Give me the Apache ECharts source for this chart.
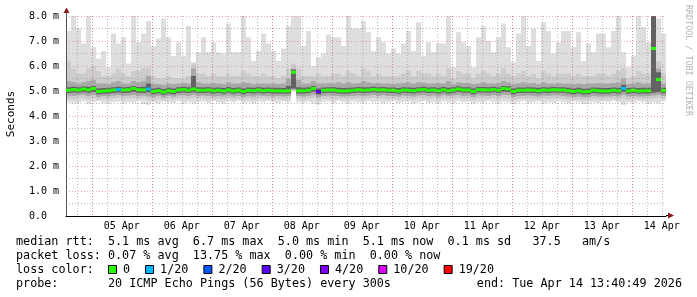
<!DOCTYPE html>
<html><head><meta charset="utf-8">
<script src="https://cdn.jsdelivr.net/npm/echarts@6/dist/echarts.min.js"></script>
<style>html,body{margin:0;padding:0;background:#fff}#c{width:697px;height:297px}</style>
</head><body><div id="c"></div>
<script>
// ---- data ----
const dayLabels = ['05 Apr','06 Apr','07 Apr','08 Apr','09 Apr','10 Apr','11 Apr','12 Apr','13 Apr','14 Apr'];
const yTicks = [0,1,2,3,4,5,6,7,8];
const startHour = 13.6803;   // Apr 4 13:40:49, hours after Apr 4 00:00
const endHour = 253.6803;    // Apr 14 13:40:49
const binHours = 2;
// smoke: outer (lightest) to inner (darkest), upper and lower edges in ms
const smokeTop = [7.4,8.0,7.5,6.9,8.0,6.75,6.3,6.6,5.95,7.3,
 6.9,7.15,6.1,8.0,6.95,7.3,7.8,6.8,7.1,7.9,
 7.15,6.4,6.95,6.4,7.6,6.15,6.55,7.15,6.55,6.95,
 6.55,6.5,7.7,6.55,6.55,8.0,7.15,6.2,6.6,7.3,
 6.9,6.6,6.2,6.7,7.6,8.0,8.0,6.8,7.4,6.0,
 6.35,6.5,7.25,7.15,7.15,6.8,8.0,7.5,7.5,7.8,
 7.35,6.6,7.15,6.95,6.5,6.7,6.5,6.9,7.4,6.6,
 7.75,6.4,6.95,6.55,6.9,6.9,8.0,5.95,7.35,6.95,
 6.8,5.95,7.15,7.6,7.0,6.55,7.15,7.7,6.75,6.15,
 7.3,8.0,6.8,7.5,6.2,7.75,7.4,6.5,6.95,7.4,
 7.4,6.75,7.35,6.2,6.9,6.55,7.3,7.3,6.75,7.4,
 8.0,6.55,5.95,6.4,8.0,7.55,6.95,8.0,7.9,7.3];
const smokeP2 = [6.2,5.9,5.7,5.7,5.9,6.0,5.8,5.6,5.6,5.7,
 5.9,5.7,5.6,5.8,5.8,5.9,5.95,5.6,5.5,5.5,
 5.6,5.5,5.5,5.5,5.6,6.1,5.7,5.7,5.6,5.7,
 5.6,5.6,5.7,5.6,5.6,5.8,5.7,5.6,5.6,5.7,
 5.6,5.6,5.5,5.6,5.9,6.1,5.9,5.6,5.6,5.6,
 5.7,5.6,5.6,5.7,5.7,5.6,5.8,5.7,5.6,5.9,
 5.8,5.6,5.7,5.6,5.6,5.6,5.6,5.7,5.8,5.6,
 5.8,5.7,5.7,5.6,5.7,5.6,5.9,5.5,5.8,5.7,
 5.7,5.5,5.7,5.8,5.7,5.6,5.7,5.9,5.7,5.6,
 5.7,5.8,5.6,5.7,5.5,5.8,5.7,5.6,5.7,5.7,
 5.7,5.6,5.7,5.6,5.6,5.6,5.7,5.7,5.6,5.7,
 5.8,5.9,5.5,5.6,5.8,5.7,5.7,8.0,6.2,5.7];
const smokeP3 = [5.4,5.35,5.3,5.35,5.4,5.45,5.3,5.3,5.28,5.35,
 5.4,5.3,5.3,5.4,5.35,5.4,5.6,5.3,5.28,5.25,
 5.3,5.28,5.3,5.32,5.3,5.9,5.35,5.3,5.3,5.32,
 5.3,5.28,5.35,5.3,5.3,5.35,5.32,5.28,5.3,5.3,
 5.3,5.3,5.28,5.3,5.5,5.9,5.45,5.3,5.3,5.4,
 5.3,5.3,5.32,5.3,5.35,5.3,5.35,5.3,5.32,5.4,
 5.35,5.3,5.32,5.3,5.3,5.28,5.3,5.32,5.35,5.3,
 5.35,5.32,5.3,5.3,5.32,5.3,5.4,5.28,5.35,5.32,
 5.32,5.28,5.3,5.35,5.3,5.3,5.32,5.4,5.35,5.28,
 5.3,5.35,5.3,5.32,5.28,5.35,5.3,5.3,5.32,5.3,
 5.3,5.28,5.3,5.28,5.3,5.3,5.32,5.3,5.3,5.32,
 5.35,5.5,5.28,5.3,5.35,5.3,5.3,8.0,5.9,5.3];
const smokeP4 = [5.15,5.17,5.15,5.18,5.17,5.2,5.1,5.12,5.13,5.15,
 5.17,5.15,5.16,5.2,5.16,5.17,5.3,5.1,5.13,5.08,
 5.13,5.1,5.15,5.17,5.15,5.6,5.15,5.14,5.15,5.13,
 5.14,5.12,5.16,5.12,5.14,5.1,5.14,5.13,5.15,5.13,
 5.14,5.13,5.13,5.12,5.2,5.85,5.15,5.13,5.15,5.2,
 5.1,5.14,5.15,5.15,5.13,5.12,5.13,5.14,5.16,5.15,
 5.15,5.17,5.15,5.16,5.14,5.14,5.12,5.15,5.14,5.13,
 5.15,5.17,5.14,5.15,5.13,5.16,5.13,5.15,5.19,5.15,
 5.15,5.1,5.16,5.16,5.15,5.17,5.14,5.2,5.19,5.1,
 5.14,5.14,5.15,5.14,5.13,5.15,5.14,5.16,5.15,5.15,
 5.13,5.1,5.13,5.09,5.1,5.14,5.13,5.12,5.12,5.14,
 5.13,5.25,5.12,5.14,5.12,5.13,5.13,8.0,5.75,5.13];
const smokeLo4 = [4.92,4.94,4.93,4.95,4.93,4.96,4.87,4.89,4.9,4.92,
 4.94,4.92,4.93,4.96,4.93,4.92,4.95,4.87,4.9,4.85,
 4.9,4.87,4.92,4.94,4.92,4.95,4.92,4.92,4.93,4.9,
 4.92,4.89,4.93,4.89,4.92,4.87,4.92,4.9,4.93,4.9,
 4.92,4.9,4.9,4.89,4.9,5.1,4.9,4.9,4.92,4.97,
 4.86,4.92,4.93,4.93,4.9,4.89,4.9,4.92,4.94,4.92,
 4.93,4.95,4.93,4.94,4.92,4.92,4.89,4.93,4.92,4.9,
 4.93,4.95,4.92,4.93,4.9,4.94,4.9,4.93,4.96,4.93,
 4.93,4.87,4.94,4.94,4.93,4.95,4.92,4.97,4.96,4.87,
 4.92,4.92,4.93,4.92,4.9,4.93,4.92,4.94,4.93,4.93,
 4.9,4.87,4.9,4.86,4.87,4.92,4.9,4.89,4.89,4.92,
 4.9,4.97,4.89,4.92,4.89,4.9,4.9,4.93,4.95,4.91];
const smokeLo3 = [4.82,4.8,4.83,4.85,4.8,4.84,4.76,4.8,4.78,4.82,
 4.84,4.8,4.82,4.84,4.8,4.82,4.78,4.75,4.8,4.74,
 4.8,4.77,4.82,4.83,4.8,4.85,4.8,4.82,4.8,4.78,
 4.8,4.78,4.82,4.78,4.8,4.76,4.8,4.78,4.82,4.8,
 4.8,4.78,4.8,4.78,4.8,5.05,4.8,4.78,4.8,4.85,
 4.75,4.8,4.82,4.8,4.8,4.78,4.8,4.8,4.82,4.8,
 4.82,4.84,4.8,4.83,4.8,4.8,4.78,4.82,4.8,4.78,
 4.82,4.84,4.8,4.82,4.78,4.83,4.8,4.82,4.84,4.8,
 4.82,4.76,4.83,4.82,4.8,4.84,4.8,4.85,4.84,4.76,
 4.8,4.8,4.82,4.8,4.78,4.82,4.8,4.83,4.82,4.8,
 4.78,4.76,4.78,4.75,4.76,4.8,4.78,4.78,4.78,4.8,
 4.78,4.84,4.78,4.8,4.78,4.78,4.8,4.82,4.84,4.8];
const smokeLo2 = [4.68,4.65,4.7,4.72,4.66,4.7,4.64,4.68,4.65,4.7,
 4.72,4.66,4.7,4.7,4.68,4.7,4.64,4.62,4.68,4.62,
 4.68,4.65,4.7,4.7,4.68,4.72,4.68,4.7,4.66,4.66,
 4.68,4.65,4.7,4.66,4.68,4.64,4.68,4.65,4.7,4.68,
 4.68,4.66,4.68,4.65,4.68,5.02,4.68,4.65,4.68,4.72,
 4.62,4.68,4.7,4.66,4.68,4.66,4.68,4.68,4.7,4.66,
 4.7,4.72,4.68,4.7,4.66,4.68,4.65,4.7,4.68,4.65,
 4.7,4.72,4.66,4.7,4.65,4.7,4.68,4.7,4.72,4.68,
 4.7,4.64,4.7,4.7,4.68,4.72,4.66,4.72,4.7,4.64,
 4.68,4.68,4.7,4.66,4.65,4.7,4.68,4.7,4.7,4.68,
 4.65,4.64,4.66,4.62,4.64,4.68,4.66,4.65,4.66,4.68,
 4.66,4.7,4.65,4.68,4.66,4.65,4.68,4.7,4.72,4.68];
const smokeLo1 = [4.55,4.5,4.52,4.58,4.48,4.55,4.6,4.52,4.5,4.56,
 4.58,4.5,4.55,4.52,4.6,4.48,4.45,4.55,4.5,4.58,
 4.55,4.52,4.6,4.5,4.56,4.5,4.55,4.58,4.52,4.6,
 4.55,4.5,4.58,4.55,4.6,4.52,4.55,4.5,4.58,4.55,
 4.6,4.55,4.52,4.58,4.55,5.0,4.55,4.52,4.58,4.5,
 4.45,4.55,4.58,4.52,4.6,4.55,4.5,4.58,4.55,4.52,
 4.6,4.55,4.58,4.5,4.55,4.6,4.52,4.55,4.58,4.5,
 4.55,4.6,4.52,4.55,4.5,4.58,4.55,4.52,4.6,4.55,
 4.58,4.5,4.55,4.52,4.6,4.55,4.5,4.58,4.55,4.48,
 4.55,4.6,4.52,4.55,4.58,4.5,4.55,4.52,4.6,4.55,
 4.5,4.58,4.55,4.48,4.5,4.55,4.52,4.58,4.55,4.6,
 4.55,4.45,4.55,4.52,4.58,4.55,4.5,4.55,4.5,4.6];
const medianRtt = [5.03,5.06,5.04,5.08,5.05,5.1,4.98,5.0,5.01,5.04,
 5.06,5.04,5.05,5.1,5.05,5.04,5.08,4.98,5.01,4.96,
 5.01,4.98,5.04,5.06,5.03,5.08,5.03,5.03,5.04,5.01,
 5.03,5.0,5.04,5.0,5.03,4.98,5.03,5.01,5.04,5.01,
 5.03,5.01,5.01,5.0,5.01,5.75,5.01,5.01,5.03,5.1,
 4.97,5.03,5.04,5.04,5.01,5.0,5.01,5.03,5.05,5.03,
 5.04,5.06,5.04,5.05,5.03,5.03,5.0,5.04,5.03,5.01,
 5.04,5.06,5.03,5.04,5.01,5.05,5.01,5.04,5.08,5.04,
 5.04,4.98,5.05,5.05,5.04,5.06,5.03,5.1,5.08,4.98,
 5.03,5.03,5.04,5.03,5.01,5.04,5.03,5.05,5.04,5.04,
 5.01,4.98,5.01,4.97,4.98,5.03,5.01,5.0,5.0,5.03,
 5.01,5.1,5.0,5.03,5.0,5.01,5.01,6.7,5.46,5.02];
const lossBinIdx = [10,16,50,111];
const lossBinLevel = [1,1,3,1];
const lossLabels = ['0','1/20','2/20','3/20','4/20','10/20','19/20'];
const lossColors = ['#26ff00','#00b8ff','#0059ff','#5e00ff','#7e00ff','#dd00ff','#ff0000'];
const legendLines = [
  'median rtt:  5.1 ms avg  6.7 ms max  5.0 ms min  5.1 ms now  0.1 ms sd   37.5   am/s',
  'packet loss: 0.07 % avg  13.75 % max  0.00 % min  0.00 % now',
  'loss color:',
  'probe:       20 ICMP Echo Pings (56 Bytes) every 300s'
];
const endText = 'end: Tue Apr 14 13:40:49 2026';
const yTitle = 'Seconds';
const sideText = 'RRDTOOL / TOBI OETIKER';

// ---- build ----
const smokeLayers = [
  [smokeLo1, smokeTop], [smokeLo2, smokeP2], [smokeLo3, smokeP3], [smokeLo4, smokeP4]
];
const smokeFill = ['#dedede','#cccccc','#a8a8a8','#626262'];
const smokeData = [];
smokeLayers.forEach((pair, L) => {
  pair[0].forEach((lo, i) => {
    const t0 = startHour + i * binHours;
    smokeData.push([t0, t0 + binHours, lo, pair[1][i], L]);
  });
});
const lossOf = new Array(medianRtt.length).fill(0);
lossBinIdx.forEach((b, k) => { lossOf[b] = lossBinLevel[k]; });
const medData = medianRtt.map((m, i) => {
  const t0 = startHour + i * binHours;
  return [t0, t0 + binHours, m, lossOf[i]];
});

const PXH = 2.5, L0 = 66, TOP = 16, H = 200;
const noonOrigin = 12; // grid1 origin: Apr 4 12:00
const FONT = '"DejaVu Sans Mono", "Liberation Mono", monospace';
const minorGrid = 'rgba(140,140,140,0.6)';
const majorGrid = 'rgba(215,110,110,0.55)';

const chart = echarts.init(document.getElementById('c'), null, {renderer:'canvas'});

const graphics = [];
const LX = 16, LY = [241.5, 255.5, 269.5, 283.5];
legendLines.forEach((t, k) => graphics.push({type:'text', x:LX, y:LY[k], z:10,
  style:{text:t, font:'11.75px ' + FONT, fill:'#000', verticalAlign:'middle'}}));
graphics.push({type:'text', x:682, y:LY[3], z:10,
  style:{text:endText, font:'11.75px ' + FONT, fill:'#000', verticalAlign:'middle', align:'right'}});
let bx = 108;
lossLabels.forEach((lab, k) => {
  graphics.push({type:'rect', x:bx, y:265, z:10, shape:{x:0.5, y:0.5, width:8, height:8},
    style:{fill:lossColors[k], stroke:'#000', lineWidth:1}});
  graphics.push({type:'text', x:bx + 15, y:LY[2], z:10,
    style:{text:lab, font:'11.75px ' + FONT, fill:'#000', verticalAlign:'middle'}});
  bx = bx + 15 + lab.length * 7.075 + 15;
});
graphics.push({type:'text', x:11, y:114, rotation:Math.PI/2, z:10,
  style:{text:yTitle, font:'11px ' + FONT, fill:'#000', align:'center', verticalAlign:'middle'}});
graphics.push({type:'text', x:688, y:5, rotation:-Math.PI/2, z:10,
  style:{text:sideText, font:'8.4px ' + FONT, fill:'#b4b4b4', align:'left', verticalAlign:'middle'}});
// axis arrows
graphics.push({type:'line', z:10, shape:{x1:66.5, y1:16, x2:66.5, y2:12}, style:{stroke:'#555', lineWidth:1}});
graphics.push({type:'polygon', z:10, shape:{points:[[63.5,13],[69.5,13],[66.5,7.5]]}, style:{fill:'#8b1a1a'}});
graphics.push({type:'line', z:10, shape:{x1:666, y1:215.5, x2:669, y2:215.5}, style:{stroke:'#000', lineWidth:1}});
graphics.push({type:'polygon', z:10, shape:{points:[[668,212.5],[668,218.5],[674,215.5]]}, style:{fill:'#8b1a1a'}});

const option = {
  animation:false,
  backgroundColor:'#fff',
  grid:[
    {left:L0, top:TOP, width:600, height:H},
    {left:L0 - (startHour - noonOrigin) * PXH, top:TOP, width:(endHour - noonOrigin) * PXH, height:H},
    {left:L0 - startHour * PXH, top:TOP, width:endHour * PXH, height:H}
  ],
  xAxis:[
    {gridIndex:0, type:'value', position:'bottom', min:startHour, max:endHour, z:3,
     axisLine:{show:true, onZero:false, lineStyle:{color:'#000', width:1}},
     axisTick:{show:false}, axisLabel:{show:false}, splitLine:{show:false}},
    {gridIndex:1, type:'value', position:'bottom', min:0, max:endHour - noonOrigin, interval:6, z:3,
     axisLine:{show:false}, axisTick:{show:false}, axisLabel:{show:false},
     splitLine:{show:true, showMinLine:false, showMaxLine:false, lineStyle:{color:minorGrid, width:1, type:[1,2]}}},
    {gridIndex:1, type:'value', position:'bottom', offset:0, min:0, max:endHour - noonOrigin, interval:24, z:3,
     axisLine:{show:false, onZero:false}, axisTick:{show:false}, splitLine:{show:false},
     axisLabel:{show:true, showMinLabel:false, showMaxLabel:false, margin:5,
       fontFamily:FONT, fontSize:10, color:'#000',
       formatter:(v) => dayLabels[Math.round(v / 24) - 1] || ''}},
    {gridIndex:2, type:'value', position:'bottom', min:0, max:endHour, interval:24, z:3,
     axisLine:{show:false}, axisTick:{show:false}, axisLabel:{show:false},
     splitLine:{show:true, showMinLine:false, showMaxLine:false, lineStyle:{color:majorGrid, width:1, type:[1,2]}}}
  ],
  yAxis:[
    {gridIndex:0, type:'value', min:yTicks[0], max:yTicks[yTicks.length-1], interval:1, z:3,
     axisLine:{show:true, onZero:false, lineStyle:{color:'#555', width:1}},
     axisTick:{show:false},
     axisLabel:{show:true, margin:7, fontFamily:FONT, fontSize:10, color:'#000',
       formatter:(v) => v.toFixed(1) + ' ' + (v === 0 ? ' ' : 'm')},
     splitLine:{show:true, lineStyle:{color:majorGrid, width:1, type:[1,2]}},
     minorTick:{show:false, splitNumber:2},
     minorSplitLine:{show:true, lineStyle:{color:minorGrid, width:1, type:[1,2]}}},
    {gridIndex:1, type:'value', min:0, max:1, show:false},
    {gridIndex:2, type:'value', min:0, max:1, show:false}
  ],
  graphic:graphics,
  series:[
    {type:'custom', xAxisIndex:0, yAxisIndex:0, z:2, clip:true, silent:true,
     encode:{x:[0,1], y:[2,3]}, data:smokeData,
     renderItem:(params, api) => {
       const a = api.coord([api.value(0), api.value(3)]);
       const b = api.coord([api.value(1), api.value(2)]);
       return {type:'rect', shape:{x:a[0], y:a[1], width:b[0]-a[0], height:b[1]-a[1]},
               style:{fill:smokeFill[api.value(4)]}};
     }},
    {type:'custom', xAxisIndex:0, yAxisIndex:0, z:5, clip:true, silent:true,
     encode:{x:[0,1], y:2}, data:medData,
     renderItem:(params, api) => {
       const a = api.coord([api.value(0), api.value(2)]);
       const b = api.coord([api.value(1), api.value(2)]);
       return {type:'rect', shape:{x:a[0], y:a[1]-1.5, width:b[0]-a[0], height:3},
               style:{fill:lossColors[api.value(3)]}};
     }}
  ]
};
chart.setOption(option);
</script></body></html>
